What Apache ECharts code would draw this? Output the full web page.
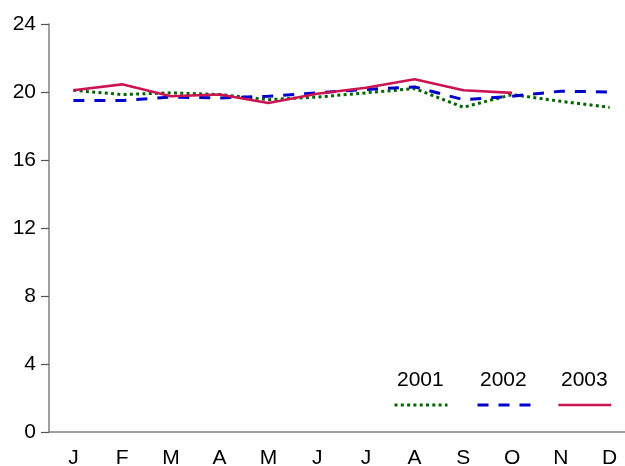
<!DOCTYPE html>
<html><head><meta charset="utf-8">
<script src="https://cdn.jsdelivr.net/npm/echarts@6/dist/echarts.min.js"></script>
<style>html,body{margin:0;padding:0;background:#fff}#c{width:625px;height:466px}</style>
</head><body><div id="c"></div>
<script>
var months = ['J','F','M','A','M','J','J','A','S','O','N','D'];
var s2001 = [20.1, 19.85, 19.95, 19.85, 19.55, 19.7, 19.95, 20.2, 19.1, 19.85, 19.45, 19.1];
var s2002 = [19.5, 19.5, 19.7, 19.65, 19.75, 19.95, 20.15, 20.3, 19.55, 19.75, 20.05, 20.0];
var s2003 = [20.1, 20.45, 19.75, 19.85, 19.35, 19.9, 20.25, 20.75, 20.1, 19.95, null, null];
var names = ['2001','2002','2003'];
var colors = ['#006400','#0000cc','#cc1452'];
var types = [[3,3.3],[11,10],'solid'];
var datas = [s2001, s2002, s2003];
var yTicks = [0,4,8,12,16,20,24];
var FONT = '"Liberation Sans", Arial, sans-serif';

var chart = echarts.init(document.getElementById('c'));
var series = names.map(function(n,i){
  return {name:n, type:'line', data:datas[i], symbol:'none', smooth:false,
    lineStyle:{color:colors[i], width:i===2?2.6:3, type:types[i]}, itemStyle:{color:colors[i]}};
});
var legendX = [393, 476, 557];
var legends = names.map(function(n,i){
  return {data:[n], left:legendX[i], top:398, itemWidth:53, itemHeight:14,
    formatter:function(){return '';}, selectedMode:false, padding:0,
    itemStyle:{opacity:0}, lineStyle:{color:colors[i], width:i===2?2.6:3, type:types[i]}};
});
var graphics = names.map(function(n,i){
  return {type:'text', left:legendX[i]+4, top:370, style:{text:n, font:'21px ' + FONT, fill:'#000'}};
});
chart.setOption({
  animation:false,
  grid:{left:49, width:585, top:24, bottom:34, outerBoundsMode:'none', containLabel:false},
  legend:legends,
  graphic:graphics,
  xAxis:{type:'category', data:months, boundaryGap:true,
    axisLine:{lineStyle:{color:'#808080', width:1.5}},
    axisTick:{alignWithLabel:true, length:10, lineStyle:{color:'#555', width:1.2}},
    axisLabel:{color:'#000', fontSize:21, fontFamily:FONT, margin:16}},
  yAxis:{type:'value', min:0, max:24, interval:4,
    axisLine:{show:true, lineStyle:{color:'#808080', width:1.5}},
    axisTick:{show:true, length:8, lineStyle:{color:'#555', width:1.2}},
    splitLine:{show:false},
    axisLabel:{color:'#000', fontSize:21, fontFamily:FONT, margin:13,
      formatter:function(v){return yTicks.indexOf(v)>=0?String(v):'';}}},
  series:series
});
</script></body></html>
